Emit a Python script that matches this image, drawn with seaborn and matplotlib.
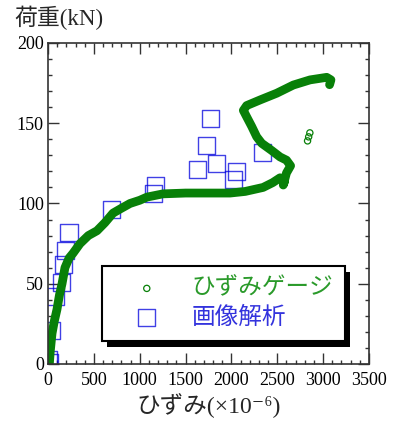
import pandas as pd
import seaborn as sns
import matplotlib.pyplot as plt
from matplotlib.ticker import MultipleLocator
from matplotlib.patches import Rectangle

# strain gauge trace (strain x1e-6, load kN)
gauge_strain = [15, 25, 44, 70, 98, 125, 153, 185, 230, 273, 349, 440, 534, 620, 709,
                800, 894, 1000, 1080, 1254, 1500, 1800, 1985, 2150, 2345, 2450, 2530,
                2580, 2565, 2600, 2645, 2600, 2530, 2439, 2330, 2275, 2221, 2166, 2130,
                2166, 2312, 2494, 2675, 2857, 3039, 3085, 3070]
gauge_load = [0, 8, 19, 27, 34, 43, 50, 60, 66, 69, 75, 80, 83, 88, 94,
              97, 100, 102, 104, 106, 106.5, 106.5, 106.5, 107.5, 110, 113, 116,
              114, 111.5, 119, 123.5, 127, 129, 133, 137.5, 141.6, 148, 154, 158,
              161, 164.5, 168.7, 173.8, 177, 178.6, 177, 174]
gauge_extra_strain = [2830, 2842, 2855]
gauge_extra_load = [139, 141.5, 144]

# image analysis points
image_strain = [10, 20, 40, 84, 142, 167, 196, 229, 694, 1149, 1167, 1632, 1723,
                1767, 1840, 2021, 2057, 2341]
image_load = [3, 1, 21, 42, 51, 62, 71, 82, 96, 106, 111, 121, 136,
              153, 125, 115, 120, 132]

labels = ["ひずみゲージ", "画像解析"]

GREEN = "#088008"
BLUE = "#0000dd"

sns.set_theme(style="ticks")
plt.rcParams["font.family"] = ["Liberation Serif", "Noto Sans CJK JP", "DejaVu Sans"]

fig = plt.figure(figsize=(3.95, 4.23), dpi=100)
ax = fig.add_axes([0.1215, 0.1395, 0.8127, 0.7589])

gauge = pd.DataFrame({"strain": gauge_strain, "load": gauge_load})
sns.lineplot(data=gauge, x="strain", y="load", sort=False, estimator=None,
             color=GREEN, lw=6.3, solid_capstyle="round", solid_joinstyle="round", ax=ax)
sns.scatterplot(x=gauge_extra_strain, y=gauge_extra_load, marker="o", s=20,
                facecolor="none", edgecolor=GREEN, linewidth=0.9, label=labels[0], ax=ax)
sns.scatterplot(x=image_strain, y=image_load, marker="s", s=150,
                facecolor="none", edgecolor=BLUE, linewidth=1.0, alpha=0.75,
                label=labels[1], ax=ax)

ax.set_xlim(0, 3500)
ax.set_ylim(0, 200)
ax.xaxis.set_major_locator(MultipleLocator(500))
ax.xaxis.set_minor_locator(MultipleLocator(100))
ax.yaxis.set_major_locator(MultipleLocator(50))
ax.yaxis.set_minor_locator(MultipleLocator(10))
ax.tick_params(which="both", direction="in", top=True, right=True, width=1,
               color="#333333", labelsize=13, labelcolor="black")
ax.tick_params(which="major", length=8)
ax.tick_params(which="minor", length=3)
ax.tick_params(axis="x", pad=6)
ax.tick_params(axis="y", pad=3)
for sp in ax.spines.values():
    sp.set_linewidth(1.2)
    sp.set_color("#333333")

ax.set_xlabel("ひずみ(×10⁻⁶)", fontsize=17, labelpad=3)
ax.set_ylabel("荷重(kN)", fontsize=16.5, rotation=0, ha="left", va="center")
ax.yaxis.set_label_coords(-0.105, 1.078)

leg = ax.legend(loc="upper left", bbox_to_anchor=(0.168, 0.305), fontsize=17,
                frameon=True, fancybox=False, edgecolor="black", framealpha=1,
                borderpad=0.5, handlelength=2.8, handletextpad=0.5,
                labelspacing=0.3, borderaxespad=0)
leg.get_frame().set_linewidth(1.5)
leg.get_texts()[0].set_color("#2a9a2a")
leg.get_texts()[1].set_color("#3333dd")

# offset shadow behind the legend box
fig.canvas.draw()
bb = leg.get_window_extent()
inv = ax.transAxes.inverted()
(sx0, sy0), (sx1, sy1) = inv.transform([[bb.x0 + 5, bb.y0 - 6], [bb.x1 + 5, bb.y1 - 6]])
ax.add_patch(Rectangle((sx0, sy0), sx1 - sx0, sy1 - sy0, transform=ax.transAxes,
                       facecolor="black", edgecolor="none", zorder=4.5, clip_on=False))

fig.savefig("out.png", dpi=100)
